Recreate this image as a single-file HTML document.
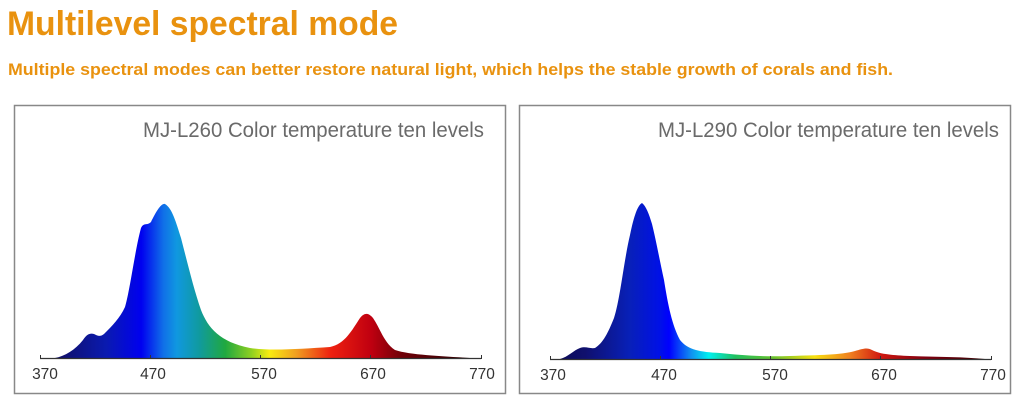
<!DOCTYPE html>
<html><head><meta charset="utf-8"><style>
html,body{margin:0;padding:0;background:#fff;width:1024px;height:409px;overflow:hidden}
text{font-family:"Liberation Sans",sans-serif}
</style></head><body>
<svg width="1024" height="409" viewBox="0 0 1024 409" xmlns="http://www.w3.org/2000/svg">
<defs>
<linearGradient id="g1" gradientUnits="userSpaceOnUse" x1="40" y1="0" x2="481" y2="0">
<stop offset="0" stop-color="#0a0a50"/>
<stop offset="0.05" stop-color="#10106e"/>
<stop offset="0.15" stop-color="#0a1ab0"/>
<stop offset="0.23" stop-color="#0000f0"/>
<stop offset="0.28" stop-color="#1070e8"/>
<stop offset="0.31" stop-color="#1098e0"/>
<stop offset="0.36" stop-color="#109aa0"/>
<stop offset="0.42" stop-color="#20a840"/>
<stop offset="0.48" stop-color="#90d020"/>
<stop offset="0.52" stop-color="#f8ec10"/>
<stop offset="0.58" stop-color="#f0a020"/>
<stop offset="0.66" stop-color="#ee2010"/>
<stop offset="0.75" stop-color="#c00010"/>
<stop offset="0.82" stop-color="#700008"/>
<stop offset="1" stop-color="#200000"/>
</linearGradient>
<linearGradient id="g2" gradientUnits="userSpaceOnUse" x1="550" y1="0" x2="991" y2="0">
<stop offset="0" stop-color="#0a0a50"/>
<stop offset="0.08" stop-color="#10106e"/>
<stop offset="0.18" stop-color="#0820b8"/>
<stop offset="0.25" stop-color="#0010e8"/>
<stop offset="0.27" stop-color="#0000ff"/>
<stop offset="0.32" stop-color="#1090f0"/>
<stop offset="0.36" stop-color="#00f0f0"/>
<stop offset="0.42" stop-color="#20c060"/>
<stop offset="0.5" stop-color="#60c030"/>
<stop offset="0.6" stop-color="#f8e010"/>
<stop offset="0.68" stop-color="#f08020"/>
<stop offset="0.75" stop-color="#d01810"/>
<stop offset="0.85" stop-color="#800010"/>
<stop offset="1" stop-color="#300000"/>
</linearGradient>
</defs>
<text x="7" y="35" font-size="34" font-weight="bold" fill="#e9920f" textLength="391" lengthAdjust="spacingAndGlyphs">Multilevel spectral mode</text>
<text x="8" y="75" font-size="17" font-weight="bold" fill="#e9920f" textLength="885" lengthAdjust="spacingAndGlyphs">Multiple spectral modes can better restore natural light, which helps the stable growth of corals and fish.</text>

<rect x="14.5" y="105.5" width="491" height="288" fill="#fff" stroke="#888" stroke-width="1.5"/>
<text x="484" y="137" font-size="21" fill="#6a6a6a" text-anchor="end" textLength="341" lengthAdjust="spacingAndGlyphs">MJ-L260 Color temperature ten levels</text>
<path fill="url(#g1)" d="M55,358 C65,356 75,350 83,340 C87,334 90,333 94,334 C98,336 100,337 104,334 C112,326 120,318 125,307 C130,290 135,250 141,228 C144,222 147,226 151,222 C156,212 161,203 165,204 C172,208 176,222 181,238 C188,265 194,290 201,310 C208,328 220,342 250,348 C270,351 300,349 330,347 C345,344 352,330 360,318 C364,313 368,312 373,318 C380,328 384,343 395,350 C410,355 440,356 470,358 Z"/>
<line x1="40" y1="358.5" x2="481" y2="358.5" stroke="#333" stroke-width="1.2"/>
<g stroke="#333" stroke-width="1"><line x1="40.5" y1="355" x2="40.5" y2="359"/><line x1="150.5" y1="355" x2="150.5" y2="359"/><line x1="260.5" y1="355" x2="260.5" y2="359"/><line x1="370.5" y1="355" x2="370.5" y2="359"/><line x1="481.5" y1="355" x2="481.5" y2="359"/></g>
<g font-size="15.5" fill="#333" text-anchor="middle"><text x="45" y="379">370</text><text x="153" y="379">470</text><text x="264" y="379">570</text><text x="373" y="379">670</text><text x="482" y="379">770</text></g>

<rect x="519.5" y="105.5" width="491" height="288" fill="#fff" stroke="#888" stroke-width="1.5"/>
<text x="999" y="137" font-size="21" fill="#6a6a6a" text-anchor="end" textLength="341" lengthAdjust="spacingAndGlyphs">MJ-L290 Color temperature ten levels</text>
<path fill="url(#g2)" d="M560,359 C568,357 574,350 580,348 C586,346 590,349 595,348 C603,343 608,333 614,318 C620,300 624,260 630,235 C634,215 638,205 642,203 C646,206 649,214 652,224 C656,240 660,262 664,280 C668,305 672,325 680,340 C688,350 700,352 720,353 C740,355 760,357 790,356 C820,355 840,355 855,351 C862,349 867,347 872,350 C878,353 885,355 910,356 C940,357 965,357 985,359 Z"/>
<line x1="550" y1="359.5" x2="991" y2="359.5" stroke="#333" stroke-width="1.2"/>
<g stroke="#333" stroke-width="1"><line x1="550.5" y1="356" x2="550.5" y2="360"/><line x1="660.5" y1="356" x2="660.5" y2="360"/><line x1="770.5" y1="356" x2="770.5" y2="360"/><line x1="880.5" y1="356" x2="880.5" y2="360"/><line x1="991.5" y1="356" x2="991.5" y2="360"/></g>
<g font-size="15.5" fill="#333" text-anchor="middle"><text x="553" y="380">370</text><text x="664" y="380">470</text><text x="775" y="380">570</text><text x="884" y="380">670</text><text x="993" y="380">770</text></g>
</svg>
</body></html>
